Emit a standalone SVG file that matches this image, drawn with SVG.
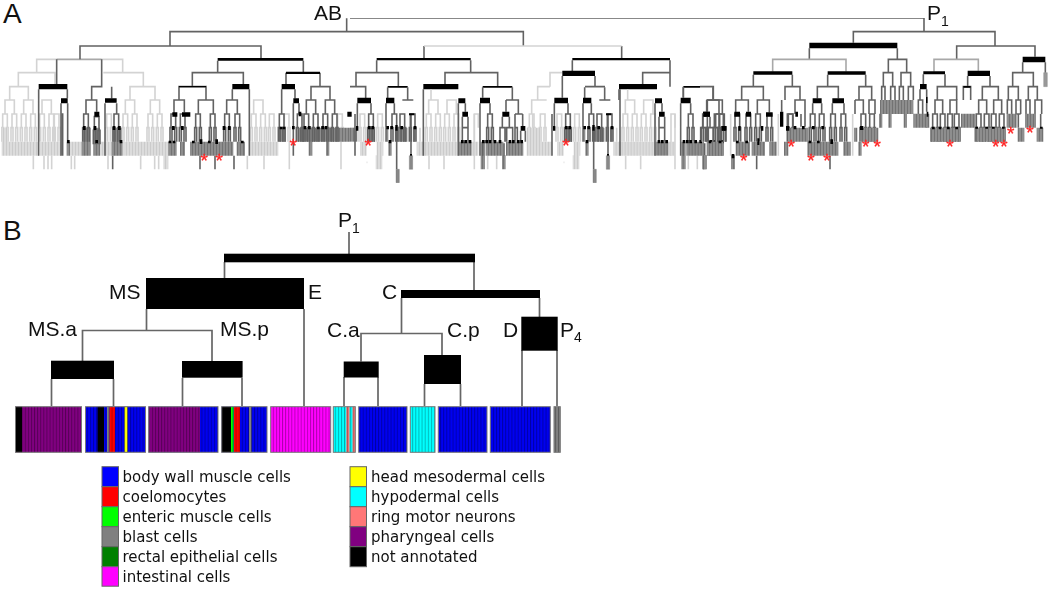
<svg xmlns="http://www.w3.org/2000/svg" width="1050" height="590" viewBox="0 0 1050 590">
<style>
text{font-family:"Liberation Sans",Arial,sans-serif;fill:#111}
.lab{font-size:21px}
.sub{font-size:14px}
.pan{font-size:28px}
.leg{font-family:"DejaVu Sans",sans-serif;font-size:15px}
.star{font-size:19px;fill:#f22;stroke:#f22;stroke-width:.3;text-anchor:middle}
.L,.M,.G,.D{fill:none;stroke-width:4.8}
.L{stroke:#d3d3d3}
.G{stroke:#a8a8a8}
.M{stroke:#626262}
.D{stroke:#444}
.bk{fill:#000}
.dot{fill:none;stroke:#000;stroke-width:8}
.bl{fill:none;stroke:url(#sl);stroke-width:42}
.bd{fill:none;stroke:url(#sd);stroke-width:42}
.cn{fill:none;stroke:#666;stroke-width:1.7}
.nd{fill:#000}
.sw{stroke:#666;stroke-width:1}
.ov{fill:url(#cl);stroke:#777;stroke-width:1}
</style>
<defs>
<filter id="soft" x="0" y="0" width="1" height="1"><feGaussianBlur stdDeviation="0.3"/></filter>
<pattern id="sl" patternUnits="userSpaceOnUse" width="9" height="9"><rect width="9" height="9" fill="#dcdcdc"/><rect width="2.5" height="9" fill="#c8c8c8"/></pattern>
<pattern id="sd" patternUnits="userSpaceOnUse" width="9" height="9"><rect width="9" height="9" fill="#8e8e8e"/><rect width="2.5" height="9" fill="#6e6e6e"/></pattern>
<pattern id="cl" patternUnits="userSpaceOnUse" width="3.1" height="9"><rect width="0.9" height="9" fill="#000" fill-opacity=".32"/></pattern>
<path id="p2" d="M-7,41V0H7V41M-10,83V41H-4V83M4,83V41H10V83"/>
<g id="p4"><path d="M-14,42V0H14V42"/><use href="#p2" x="-14" y="42"/><use href="#p2" x="14" y="42"/></g>
<g id="p8"><path d="M-28,40V0H28V40"/><use href="#p4" x="-28" y="40"/><use href="#p4" x="28" y="40"/></g>

<g id="sub1">
<g class="L"><use href="#p2" x="37" y="342"/><use href="#p2" x="90" y="342"/><path d="M50,487H52M85,425V467M95,425V467"/></g>
<path class="bl" d="M30,446H50M80,446H100M77,487H97"/>
<path class="bd" d="M55,404H75M105,404H115M150,404H172M190,404H197M115,446H125"/>
<g class="M"><path d="M22,310V378M15,342V467M63,310V342M113,262V295M173,262V300M108,310V383M133,310V342M183,342V467M140,392V508M157,300H190"/>
<use href="#p2" x="63" y="342"/><use href="#p2" x="133" y="342"/><use href="#p2" x="157" y="342"/><use href="#p2" x="188" y="342"/></g>
<path class="bk" d="M22,293H63V310H22ZM108,293H133V310H108ZM177,340H193V346H177ZM18,378H25V392H18ZM136,375H143V392H136ZM180,462H186V472H180Z"/>
<path d="M138,508H148V548H138ZM178,467H188V508H178Z" fill="#888" stroke="#666"/>
<path class="dot" d="M58,378v10M68,378v10M113,378v10M125,378v10M155,378v10M195,378v10M120,420v10"/>
</g>

<g id="sub2">
<g class="L"><use href="#p4" x="250" y="300"/><use href="#p4" x="305" y="300"/><path d="M243,268V300M373,340V467M210,383V425M375,342H385V383M237,467V508M282,467V508"/></g>
<path class="bl" d="M200,446H327M365,446H385"/>
<path class="bd" d="M327,446H365"/>
<g class="M"><path d="M220,268V467M325,310V467M346,310V335M337,350V425M354,350V425M337,383H354"/></g>
<path class="dot" d="M337,420v10M347,420v10M360,420v10"/>
<path class="bk" d="M325,295H346V310H325ZM337,335H354V350H337Z"/>
</g>

<g id="sub3">
<g class="L"><path d="M373,342V508M413,467V508M440,467V508"/></g>
<path class="bd" d="M392,446H405M407,446H460M468,446H520M392,487H405M456,487H467"/>
<g class="M"><path d="M398,262V293M487,262V300M390,310V467M398,467V430M420,310V342M468,300H505V342M468,300V335M457,350V383M478,350V383M450,425V383H465V425M470,425V383H488V425M495,425V383H502V425M495,342H518M495,342V383M518,342V380M512,392V425M526,392V425M462,430V467"/>
<use href="#p2" x="420" y="342"/></g>
<path class="bk" d="M390,293H420V310H390ZM457,335H478V350H457ZM512,378H526V392H512Z"/>
<path class="dot" d="M400,420v10M410,420v10M420,420v10M435,420v10M450,420v10M480,420v10M490,420v10M505,420v10M515,420v10"/>
</g>
</defs>

<rect width="1050" height="590" fill="#fff"/>
<text class="pan" x="3" y="23">A</text>
<text class="pan" x="3" y="240">B</text>

<g id="connectors" filter="url(#soft)">
<g id="tree-A-left" transform="scale(.33333)">
<g class="L">
<path d="M110,218V178H170M305,178H368V218M55,260V218H165V252M310,218H430V260M390,300V260H465V300"/>
<use href="#p8" x="57" y="260"/><use href="#p4" x="390" y="300"/><use href="#p4" x="465" y="300"/><use href="#p4" x="140" y="300"/>
<use href="#p2" x="327" y="342"/><use href="#p2" x="170" y="342"/><use href="#p4" x="775" y="300"/><use href="#p2" x="815" y="342"/><use href="#p2" x="1020" y="342"/><use href="#p2" x="860" y="342"/>
<path d="M100,467V508M132,467V508M144,467V508M155,467V508M214,467V508M224,467V508M324,467V508M422,467V508M464,467V508M476,467V508M742,467V508M792,467V508M868,425V508M1023,425V508"/>
</g>
<path class="bl" d="M5,404H25M5,446H116M120,446H183M210,446H245M300,446H335M370,446H505M750,446H835M490,487H505"/>
<path class="bd" d="M248,404H272M280,404H300M338,404H365M836,404H857M893,404H1050M245,446H272M280,446H300M335,446H368M200,446H210M505,446H530M540,446H555M570,446H700M710,446H735M926,446H937M978,446H988"/>
<path class="G" d="M170,178H305"/>
<g class="M">
<path d="M510,138V95H1040V55M240,178V138H783V178M170,178V252M305,178V260H275V300M335,260V295M653,182V218M910,182V218M577,260V218H730V252M858,252V218M960,218V260M537,300V260H618V300M1040,95H1050"/>
<path d="M116,268V467M202,268V295M183,310V467M188,340V467M203,310V425M275,300H258V342M275,300H290V335M315,310V467M350,310V342"/>
<path d="M697,268V300M748,268V467M845,268V342M885,268V295M880,310V467M897,310V342M933,300V260H990V300"/>
<path d="M522,342V300H553V337M595,342V300H640V342M680,342V300H712V342"/>
<path d="M600,467V508M645,467V508M702,467V508M338,467V508"/>
<use href="#p2" x="258" y="342"/><use href="#p2" x="349" y="342"/><use href="#p2" x="290" y="350"/>
<use href="#p2" x="520" y="342"/><use href="#p2" x="548" y="342"/><use href="#p2" x="594" y="342"/><use href="#p2" x="638" y="342"/><use href="#p2" x="681" y="342"/><use href="#p2" x="712" y="342"/>
<use href="#p2" x="845" y="342"/><use href="#p2" x="899" y="342"/><use href="#p4" x="933" y="300"/><use href="#p4" x="990" y="300"/>
</g>
<path class="bk" d="M653,174H910V182H653ZM858,215H960V222H858ZM116,252H202V268H116ZM183,295H203V310H183ZM315,295H350V308H315ZM283,335H298V350H283ZM697,252H748V268H697ZM845,252H885V268H845ZM880,295H897V310H880ZM537,258H618V262H537ZM517,337H532V350H517ZM546,337H571V350H546Z"/>
<path class="dot" d="M253,378v12M285,378v12M342,378v12M358,378v12M205,420v10M290,420v10M363,420v10M520,378v12M547,378v12M672,378v12M688,378v12M510,422v8M522,422v8M580,422v8M603,418v14M628,422v8M650,418v14M727,422v8M843,380v8M852,380v8M880,378v10M900,335v14M915,378v10M928,378v10M955,380v8M968,378v10M978,378v10"/>
</g>

<g id="tree-A-mid" transform="translate(350) scale(.33333)">
<g class="M"><path d="M0,54H1050M0,95H520V138M222,178V138M815,138V178M80,181V218M362,181V218M18,260V218H145V260M285,252V218H443V260M0,260H47V295M667,181V218M960,181V218M637,228V293M735,228V260M878,252V218H960V260M705,260H765"/></g>
<path class="L" d="M600,260V218H637M563,300V260H600M222,138H815M545,342V300H590M548,342V425"/>
<g class="L"><use href="#p2" x="545" y="342"/><use href="#p2" x="578" y="342"/></g>
<path class="bl" d="M530,404H575M530,446H605"/>
<path class="bd" d="M0,404H22"/>
<path class="bk" d="M80,174H362V181H80ZM220,252H325V268H220ZM398,258H487V263H398ZM667,174H960V181H667ZM637,212H735V228H637ZM113,258H173V263H113ZM807,252H921V268H807ZM1000,258H1050V263H1000ZM-8,335H5V350H-8Z"/>
<use href="#sub1"/><use href="#sub2"/><use href="#sub3"/>
<use href="#sub1" x="591"/><use href="#sub2" x="590"/><use href="#sub3" x="602"/>
<path class="M" d="M1000,260V293M807,268V300"/>
</g>

<g id="tree-A-right" transform="translate(700) scale(.33333)">
<g class="M"><path d="M0,54H672V95M460,128V95H885V138M0,260H40V300M22,342V300H67V342M770,178V138H1005V170M328,145V178M592,145V178M160,224V260M277,224V260M383,224V260M497,224V260M565,218V178H620V218M550,260V218H578V260M603,260V218H632V260M670,223V252M735,223V260M968,187V218M1036,187V218M938,260V218H1000V260M803,228V260M870,228V260M712,300V260H770V300M660,268V300M680,268V290M790,300V260H812V300M847,300V260H895V300M125,300V260H190V300M107,350V300H145V335M172,342V300H208V337M255,300V260H300V300M352,295V260H415V295M477,300V260H515V300"/>
<path d="M705,342V300H728V342M750,342V300H770V342M836,342V300H860V342M881,342V300H905V342"/>
<path d="M545,300V260H555V300M572,300V260H585V300M598,300V260H610V300M625,300V260H640V300M655,342V300H668V342M680,310V335M680,350V383M925,300V260H955V300M985,300V260H1012V300M922,342V300H935V342M948,342V300H962V342M978,342V300H990V342M1005,342V300H1025V342M948,342H962M955,342V383M1022,342V383M245,300V335M262,380V342H278V380M300,300H285V342M300,300H315V342M303,342V380M315,342V380M338,310V342M365,310V342M397,310V342M432,310V342M465,300H490V342M465,300V342M507,342V300H525V342M170,467V508M390,467V508M10,467V508"/>
<use href="#p2" x="705" y="342"/><use href="#p2" x="728" y="342"/><use href="#p2" x="750" y="342"/><use href="#p2" x="770" y="342"/>
<use href="#p2" x="836" y="342"/><use href="#p2" x="860" y="342"/><use href="#p2" x="881" y="342"/><use href="#p2" x="905" y="342"/>
<use href="#p2" x="338" y="342"/><use href="#p2" x="365" y="342"/><use href="#p2" x="399" y="342"/><use href="#p2" x="430" y="342"/>
<use href="#p2" x="112" y="342"/><use href="#p2" x="145" y="342"/><use href="#p2" x="174" y="342"/><use href="#p2" x="208" y="342"/>
<use href="#p2" x="490" y="342"/><use href="#p2" x="516" y="342"/><use href="#p2" x="272" y="342"/>
<use href="#p2" x="50" y="342"/><use href="#p2" x="66" y="342"/><use href="#p2" x="15" y="342"/>
</g>
<g class="G"><path d="M218,215V178H438V215M702,215V178H835V212"/></g>
<g class="L"><path d="M92,342V467M235,342V467M458,342V467"/></g>
<path class="bd" d="M540,321H640M783,362H827M640,362H688M920,362H950M975,362H1008M690,404H780M827,404H917M953,404H973M1010,404H1030M265,404H325M485,404H535M107,446H150M155,446H195M208,446H230M322,446H415M430,446H452M22,446H70M537,362H547M565,362H575M611,362H621M462,404H472M252,446H265M475,446H485M10,487H20M93,487H105"/>
<path class="bk" d="M328,128H592V145H328ZM160,214H277V224H160ZM383,214H497V224H383ZM670,214H735V223H670ZM660,252H680V268H660ZM968,170H1036V187H968ZM803,212H870V228H803ZM790,258H812V263H790ZM338,295H365V310H338ZM397,295H432V310H397ZM103,335H120V350H103ZM138,335H153V350H138ZM198,337H218V350H198ZM10,335H30V350H10ZM65,378H80V392H65ZM480,378H490V390H480ZM240,335H250V380H240ZM258,378H268V392H258ZM678,290H683V310H678ZM680,335H685V350H680ZM95,462H103V475H95ZM115,378H122V392H115ZM183,378H190V392H183ZM172,415H178V435H172Z"/>
<path d="M1031,218H1042V260H1031Z" fill="#999" stroke="#777"/>
<path class="dot" d="M290,335v15M700,380v8M720,380v8M745,380v8M770,380v8M285,378v10M310,378v10M340,378v10M368,378v10M395,418v14M112,422v8M140,422v8M330,422v8M355,422v8M30,422v8M60,422v8M830,380v6M860,380v6M880,380v6M910,380v6M1024,380v6"/>
</g>
</g>

<g id="stars">
<text class="star" x="293.3" y="152">*</text><text class="star" x="204.3" y="166.5">*</text><text class="star" x="219.3" y="166.5">*</text>
<text class="star" x="368.3" y="152">*</text><text class="star" x="566" y="152">*</text>
<text class="star" x="791.3" y="152.5">*</text><text class="star" x="865.7" y="152.5">*</text><text class="star" x="877.3" y="152.5">*</text>
<text class="star" x="743.7" y="166.5">*</text><text class="star" x="811" y="166.5">*</text><text class="star" x="827" y="166.5">*</text>
<text class="star" x="950" y="152.5">*</text><text class="star" x="995.7" y="152.5">*</text><text class="star" x="1004" y="152.5">*</text>
<text class="star" x="1010.7" y="139.5">*</text><text class="star" x="1030" y="138.5">*</text>
</g>
<text class="lab" x="314" y="20">AB</text>
<text class="lab" x="927" y="20">P<tspan class="sub" dy="6">1</tspan></text>

<g id="connectors-B">
<path class="cn" d="M349,232V254M224.5,262V278M474,262V290M146.5,309V330.5M82.5,361V330.5H212V361M51.5,379V406M113.5,379V406M182.5,378V406M242,378V406M304,309V406M401.5,298V333.5M539.5,298V317M361,361.5V333.5H442V355M344,377V406M378,377V406M424.5,384V406M460.5,384V406M522,350V406M557,350V406"/>
</g>
<g id="node-P1"><rect class="nd" x="224" y="253.7" width="251" height="8.6"/></g>
<g id="node-MS"><rect class="nd" x="146" y="278" width="158" height="31"/></g>
<g id="node-C"><rect class="nd" x="401" y="290" width="139" height="8"/></g>
<g id="node-MSa"><rect class="nd" x="51" y="360.7" width="63" height="18.3"/></g>
<g id="node-MSp"><rect class="nd" x="182" y="361" width="60.6" height="16.7"/></g>
<g id="node-Ca"><rect class="nd" x="343.7" y="361.5" width="35" height="16"/></g>
<g id="node-Cp"><rect class="nd" x="424" y="355" width="37" height="29"/></g>
<g id="node-D"><rect class="nd" x="521.3" y="316.7" width="36.4" height="34"/></g>

<text class="lab" x="338" y="227">P<tspan class="sub" dy="6">1</tspan></text>
<text class="lab" x="109" y="299">MS</text>
<text class="lab" x="28" y="336">MS.a</text>
<text class="lab" x="220" y="336">MS.p</text>
<text class="lab" x="308" y="299">E</text>
<text class="lab" x="382" y="299">C</text>
<text class="lab" x="327" y="337">C.a</text>
<text class="lab" x="447" y="337">C.p</text>
<text class="lab" x="503" y="337">D</text>
<text class="lab" x="560" y="337">P<tspan class="sub" dy="5">4</tspan></text>

<g id="cells">
<rect x="15.5" y="406.7" width="66" height="45.6" fill="#800080"/><rect x="15.5" y="406.7" width="6.5" height="45.6" fill="#000"/>
<rect x="85.5" y="406.7" width="60" height="45.6" fill="#0000f0"/><rect x="97.5" y="406.7" width="6.5" height="45.6" fill="#000"/><rect x="107" y="406.7" width="2.5" height="45.6" fill="#808080"/><rect x="109.5" y="406.7" width="5.5" height="45.6" fill="#f00"/><rect x="124.5" y="406.7" width="3" height="45.6" fill="#ff0"/>
<rect x="148.7" y="406.7" width="69.3" height="45.6" fill="#0000f0"/><rect x="148.7" y="406.7" width="51.3" height="45.6" fill="#800080"/>
<rect x="221.7" y="406.7" width="45.3" height="45.6" fill="#0000f0"/><rect x="221.7" y="406.7" width="9.3" height="45.6" fill="#000"/><rect x="231" y="406.7" width="2.6" height="45.6" fill="#0f0"/><rect x="234" y="406.7" width="6" height="45.6" fill="#f00"/><rect x="249" y="406.7" width="2.5" height="45.6" fill="#808080"/>
<rect x="270.7" y="406.7" width="60" height="45.6" fill="#f0f"/>
<rect x="333.3" y="406.7" width="22" height="45.6" fill="#0ff"/><rect x="346.3" y="406.7" width="3.2" height="45.6" fill="#f77"/><rect x="352.5" y="406.7" width="2.8" height="45.6" fill="#f77"/>
<rect x="358.7" y="406.7" width="48.3" height="45.6" fill="#0000f0"/>
<rect x="410.3" y="406.7" width="24.7" height="45.6" fill="#0ff"/>
<rect x="438.3" y="406.7" width="48.7" height="45.6" fill="#0000f0"/>
<rect x="490.3" y="406.7" width="60" height="45.6" fill="#0000f0"/>
<rect x="554" y="406.7" width="6.3" height="45.6" fill="#808080"/>
<rect class="ov" x="15.5" y="406.7" width="66" height="45.6"/><rect class="ov" x="85.5" y="406.7" width="60" height="45.6"/><rect class="ov" x="148.7" y="406.7" width="69.3" height="45.6"/><rect class="ov" x="221.7" y="406.7" width="45.3" height="45.6"/><rect class="ov" x="270.7" y="406.7" width="60" height="45.6"/><rect class="ov" x="333.3" y="406.7" width="22" height="45.6"/><rect class="ov" x="358.7" y="406.7" width="48.3" height="45.6"/><rect class="ov" x="410.3" y="406.7" width="24.7" height="45.6"/><rect class="ov" x="438.3" y="406.7" width="48.7" height="45.6"/><rect class="ov" x="490.3" y="406.7" width="60" height="45.6"/><rect class="ov" x="554" y="406.7" width="6.3" height="45.6"/>
</g>

<g id="legend">
<rect class="sw" x="102" y="466.7" width="16.5" height="20" fill="#00f"/><text class="leg" x="122.5" y="482">body wall muscle cells</text>
<rect class="sw" x="102" y="486.7" width="16.5" height="20" fill="#f00"/><text class="leg" x="122.5" y="502">coelomocytes</text>
<rect class="sw" x="102" y="506.7" width="16.5" height="20" fill="#0f0"/><text class="leg" x="122.5" y="522">enteric muscle cells</text>
<rect class="sw" x="102" y="526.7" width="16.5" height="20" fill="#808080"/><text class="leg" x="122.5" y="542">blast cells</text>
<rect class="sw" x="102" y="546.7" width="16.5" height="20" fill="#008000"/><text class="leg" x="122.5" y="562">rectal epithelial cells</text>
<rect class="sw" x="102" y="566.7" width="16.5" height="19.5" fill="#f0f"/><text class="leg" x="122.5" y="582">intestinal cells</text>
<rect class="sw" x="350" y="466.7" width="16.5" height="20" fill="#ff0"/><text class="leg" x="371" y="482">head mesodermal cells</text>
<rect class="sw" x="350" y="486.7" width="16.5" height="20" fill="#0ff"/><text class="leg" x="371" y="502">hypodermal cells</text>
<rect class="sw" x="350" y="506.7" width="16.5" height="20" fill="#f77"/><text class="leg" x="371" y="522">ring motor neurons</text>
<rect class="sw" x="350" y="526.7" width="16.5" height="20" fill="#800080"/><text class="leg" x="371" y="542">pharyngeal cells</text>
<rect class="sw" x="350" y="546.7" width="16.5" height="20" fill="#000"/><text class="leg" x="371" y="562">not annotated</text>
</g>
</svg>
